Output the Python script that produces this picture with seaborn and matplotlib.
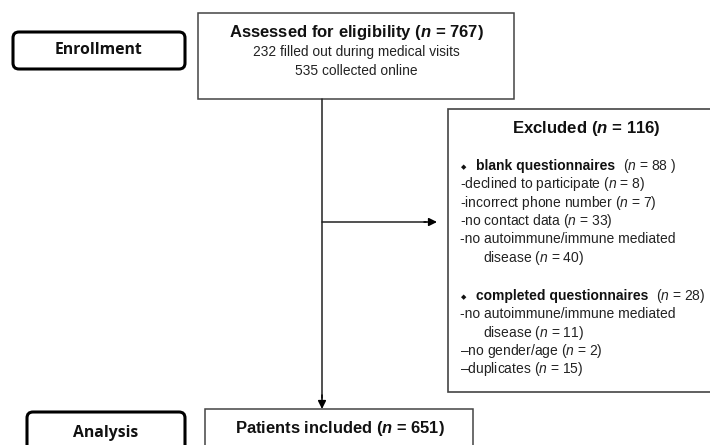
import matplotlib
matplotlib.use("Agg")
import matplotlib.pyplot as plt
import seaborn as sns
from matplotlib.patches import FancyBboxPatch, Rectangle

# === Counts shown in the flow chart ===
n_assessed = 767
n_medical = 232
n_online = 535
n_excluded = 116
n_included = 651

blank_label = "blank questionnaires"
blank_reasons = ["declined to participate", "incorrect phone number", "no contact data",
                 "no autoimmune/immune mediated\n      disease"]
blank_counts = [8, 7, 33, 40]

completed_label = "completed questionnaires"
completed_reasons = ["no autoimmune/immune mediated\n      disease", "no gender/age", "duplicates"]
completed_counts = [11, 2, 15]
completed_dash = ["-", "–", "–"]

stage_labels = ["Enrollment", "Analysis"]

sns.set_theme(style="white")
plt.rcParams["font.family"] = ["Liberation Sans", "DejaVu Sans"]
plt.rcParams["mathtext.fontset"] = "custom"
plt.rcParams["mathtext.it"] = "Liberation Sans:italic"
plt.rcParams["mathtext.bfit"] = "Liberation Sans:italic:bold"
plt.rcParams["mathtext.rm"] = "Liberation Sans"

fig = plt.figure(figsize=(7.1, 4.45), dpi=100)
ax = fig.add_axes([0, 0, 1, 1])
ax.set_xlim(0, 710)
ax.set_ylim(445, 0)
ax.axis("off")

box_col = "#444444"
txt_col = "#111111"
body_col = "#222222"

# stage labels (rounded boxes)
for label, (x0, y0, x1, y1) in zip(stage_labels, [(13, 32, 185, 69), (27, 412, 185, 460)]):
    ax.add_patch(FancyBboxPatch((x0, y0), x1 - x0, y1 - y0,
                                boxstyle="round,pad=0,rounding_size=6",
                                fc="white", ec="black", lw=2.2))
    yt = (y0 + y1) / 2 if y1 < 445 else 433
    ax.text((x0 + x1) / 2, yt, label, ha="center", va="center", fontsize=11.3,
            fontweight="bold", family=["Open Sans", "DejaVu Sans"], color=txt_col)

# assessed box
ax.add_patch(Rectangle((198, 13), 316, 86, fc="white", ec=box_col, lw=1.1))
ax.text(356, 33, r"Assessed for eligibility ($\mathbfit{n}$ = %d)" % n_assessed,
        ha="center", va="center", fontsize=12, fontweight="bold", color=txt_col)
ax.text(356, 52, f"{n_medical} filled out during medical visits",
        ha="center", va="center", fontsize=9.9, color=body_col)
ax.text(356, 71, f"{n_online} collected online",
        ha="center", va="center", fontsize=9.9, color=body_col)

# arrows
ax.plot([322, 322], [99, 398], color="#222222", lw=1.1)
ax.annotate("", xy=(322, 409), xytext=(322, 395),
            arrowprops=dict(arrowstyle="-|>", color="black", lw=1.1, mutation_scale=12,
                            shrinkA=0, shrinkB=0))
ax.plot([322, 426], [222, 222], color="#222222", lw=1.1)
ax.annotate("", xy=(437, 222), xytext=(424, 222),
            arrowprops=dict(arrowstyle="-|>", color="black", lw=1.1, mutation_scale=12,
                            shrinkA=0, shrinkB=0))

# excluded box
ax.add_patch(Rectangle((448, 109), 300, 283, fc="white", ec=box_col, lw=1.2))
ax.text(586, 129, r"Excluded ($\mathbfit{n}$ = %d)" % n_excluded,
        ha="center", va="center", fontsize=12.1, fontweight="bold", color=txt_col)

renderer = fig.canvas.get_renderer()
inv = ax.transData.inverted()

lx = 460
step = 18.3
fs = 10


def header(y, label, total, tail):
    ax.text(lx + 1, y + 1, "◆", ha="left", va="center", fontsize=5,
            family=["DejaVu Sans"], color=txt_col)
    t = ax.text(476, y, label, ha="left", va="center", fontsize=fs,
                fontweight="bold", color=txt_col)
    bb = t.get_window_extent(renderer)
    xe = inv.transform((bb.x1, bb.y0))[0]
    ax.text(xe + 8, y, r"($\mathit{n}$ = %d%s)" % (total, tail), ha="left", va="center",
            fontsize=fs, color=body_col)


def items(y, reasons, counts, dashes):
    for reason, cnt, d in zip(reasons, counts, dashes):
        lines = reason.split("\n")
        for i, ln in enumerate(lines):
            s = (d + ln) if i == 0 else ln
            if i == len(lines) - 1:
                s = s + r" ($\mathit{n}$ = %d)" % cnt
            ax.text(lx, y, s, ha="left", va="center", fontsize=fs, color=body_col)
            y += step
    return y


header(166, blank_label, sum(blank_counts), " ")
items(166 + step, blank_reasons, blank_counts, ["-"] * len(blank_reasons))

header(296, completed_label, sum(completed_counts), "")
items(296 + step, completed_reasons, completed_counts, completed_dash)

# included box
ax.add_patch(Rectangle((205, 409), 268, 60, fc="white", ec=box_col, lw=1.1))
ax.text(340, 428, r"Patients included ($\mathbfit{n}$ = %d)" % n_included,
        ha="center", va="center", fontsize=11.9, fontweight="bold", color=txt_col)

fig.savefig("out.png", dpi=100)
